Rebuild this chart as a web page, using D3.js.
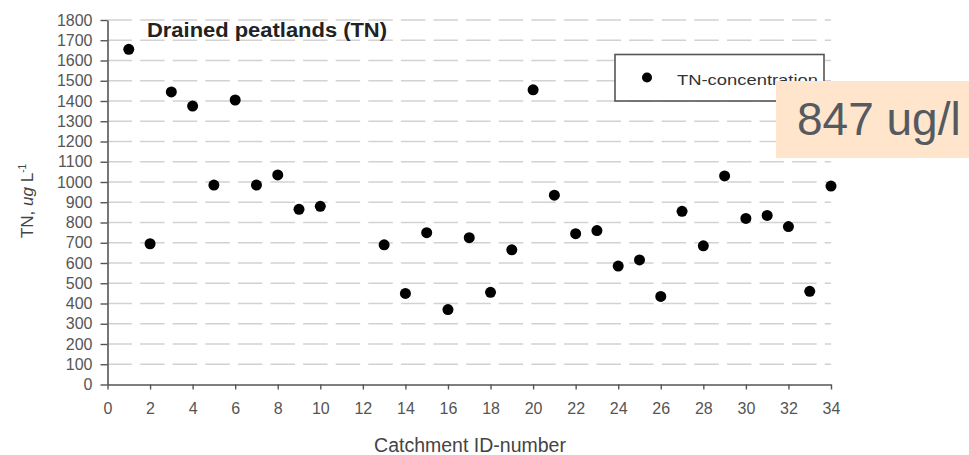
<!DOCTYPE html>
<html>
<head>
<meta charset="utf-8">
<script src="https://cdn.jsdelivr.net/npm/d3@7"></script>
<style>
  html, body { margin: 0; padding: 0; background: #fff; }
  svg { display: block; }
</style>
</head>
<body>
<svg id="chart"></svg>
<script>
// ─── data ───
const catchmentIds = [1, 2, 3, 4, 5, 6, 7, 8, 9, 10, 13, 14, 15, 16, 17, 18, 19, 20, 21, 22, 23, 24, 25, 26, 27, 28, 29, 30, 31, 32, 33, 34]
const tnValues = [1655, 695, 1445, 1375, 985, 1405, 985, 1035, 865, 880, 690, 450, 750, 370, 725, 455, 665, 1455, 935, 745, 760, 585, 615, 435, 855, 685, 1030, 820, 835, 780, 460, 980]
const xTickValues = [0, 2, 4, 6, 8, 10, 12, 14, 16, 18, 20, 22, 24, 26, 28, 30, 32, 34]
const yTickValues = [0, 100, 200, 300, 400, 500, 600, 700, 800, 900, 1000, 1100, 1200, 1300, 1400, 1500, 1600, 1700, 1800]
const seriesName = 'TN-concentration'
const annotationText = '847 ug/l'

const width = 969
const height = 455
const FONT = "'Liberation Sans', Arial, Helvetica, sans-serif"

const svg = d3.select('#chart').attr('width', width).attr('height', height)

const x = d3.scaleLinear().domain([0, 34]).range([107.5, 831])
const y = d3.scaleLinear().domain([0, 1800]).range([384.5, 20])

// ─── dashed horizontal grid ───
svg.append('g')
  .selectAll('line')
  .data(yTickValues.filter(d => d > 0))
  .join('line')
  .attr('x1', x(0)).attr('x2', x(34))
  .attr('y1', d => y(d)).attr('y2', d => y(d))
  .attr('stroke', '#d2d2d2')
  .attr('stroke-width', 1.6)
  .attr('stroke-dasharray', '24.5,8.1')

// ─── axes ───
const styleAxis = g => {
  g.select('.domain').attr('stroke', '#555').attr('stroke-width', 1.6)
  g.selectAll('.tick line').attr('stroke', '#555').attr('stroke-width', 1.4)
  g.selectAll('.tick text')
    .attr('fill', '#555')
    .attr('font-size', '16px')
    .attr('font-family', FONT)
}

svg.append('g')
  .attr('transform', `translate(${x(0)},0)`)
  .call(d3.axisLeft(y).tickValues(yTickValues).tickFormat(d3.format('d'))
    .tickSize(7).tickSizeOuter(0).tickPadding(8))
  .call(styleAxis)

svg.append('g')
  .attr('transform', `translate(0,${y(0)})`)
  .call(d3.axisBottom(x).tickValues(xTickValues).tickFormat(d3.format('d'))
    .tickSize(5).tickSizeOuter(0).tickPadding(13))
  .call(styleAxis)

// ─── points ───
svg.append('g')
  .selectAll('circle')
  .data(catchmentIds.map((id, i) => ({ id, v: tnValues[i] })))
  .join('circle')
  .attr('cx', d => x(d.id))
  .attr('cy', d => y(d.v))
  .attr('r', 5.5)
  .attr('fill', '#000')

// ─── title ───
svg.append('text')
  .attr('x', 147).attr('y', 37)
  .attr('font-family', FONT)
  .attr('font-size', '20px')
  .attr('font-weight', 'bold')
  .attr('fill', '#222')
  .attr('textLength', 240)
  .attr('lengthAdjust', 'spacingAndGlyphs')
  .text('Drained peatlands (TN)')

// ─── axis titles ───
const yLabel = svg.append('text')
  .attr('transform', 'translate(33,201) rotate(-90)')
  .attr('text-anchor', 'middle')
  .attr('font-family', FONT)
  .attr('font-size', '17px')
  .attr('fill', '#444')
yLabel.append('tspan').text('TN, ')
yLabel.append('tspan').attr('font-style', 'italic').text('ug')
yLabel.append('tspan').text(' L')
yLabel.append('tspan').attr('font-size', '10px').attr('dy', -7).text('-1')

// sits right at the bottom edge, as in the reference
svg.append('text')
  .attr('x', 470).attr('y', 452)
  .attr('text-anchor', 'middle')
  .attr('font-family', FONT)
  .attr('font-size', '19.5px')
  .attr('fill', '#444')
  .text('Catchment ID-number')

// ─── legend ───
const legend = svg.append('g')
legend.append('rect')
  .attr('x', 615).attr('y', 54.5)
  .attr('width', 209).attr('height', 46.5)
  .attr('fill', '#fff')
  .attr('stroke', '#555')
  .attr('stroke-width', 1.6)
legend.append('circle')
  .attr('cx', 647).attr('cy', 77.5)
  .attr('r', 5)
  .attr('fill', '#000')
legend.append('text')
  .attr('x', 677).attr('y', 84.5)
  .attr('font-family', FONT)
  .attr('font-size', '15px')
  .attr('fill', '#333')
  .attr('textLength', 141)
  .attr('lengthAdjust', 'spacingAndGlyphs')
  .text(seriesName)

// ─── value annotation box ───
svg.append('rect')
  .attr('x', 776).attr('y', 81)
  .attr('width', width - 776).attr('height', 77)
  .attr('fill', '#fee5cc')
svg.append('text')
  .attr('x', 797).attr('y', 135)
  .attr('font-family', FONT)
  .attr('font-size', '46px')
  .attr('fill', '#555a60')
  .text(annotationText)
</script>
</body>
</html>
